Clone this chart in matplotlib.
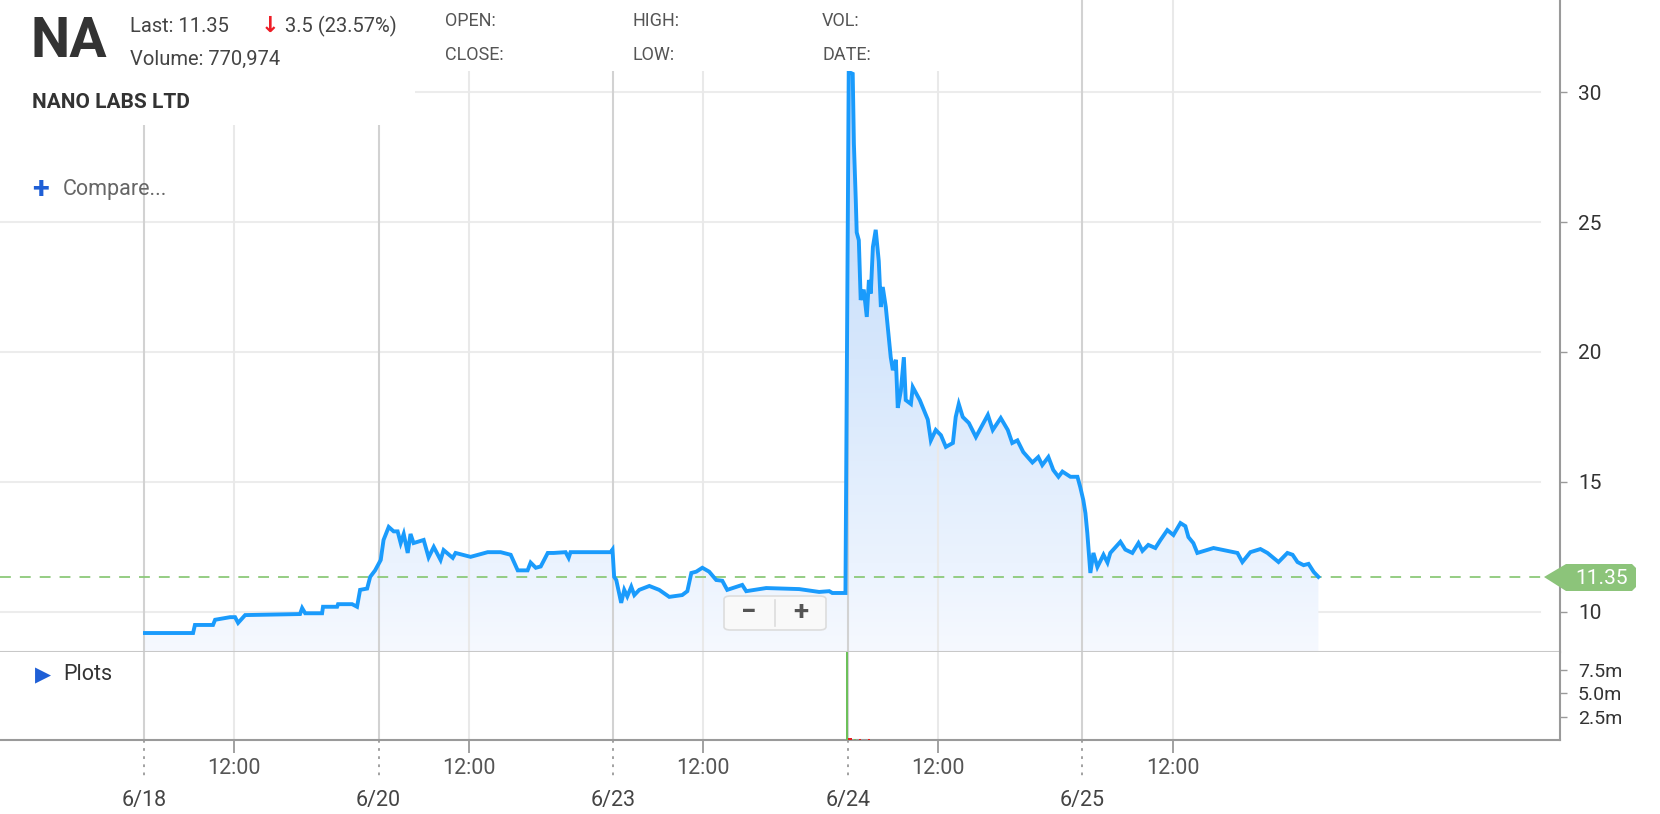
import numpy as np
import matplotlib
matplotlib.use("Agg")
import matplotlib.pyplot as plt
from matplotlib.colors import LinearSegmentedColormap
from matplotlib.patches import Rectangle, Polygon, FancyBboxPatch
import matplotlib.transforms as mtransforms

plt.rcParams['font.family'] = ['Roboto', 'DejaVu Sans']

# trading-day position (one unit per session, 0 = 6/18 open) and price
pos = [0.004, 0.209, 0.217, 0.294, 0.303, 0.367, 0.388, 0.401, 0.431, 0.665,
       0.674, 0.687, 0.759, 0.763, 0.823, 0.827, 0.887, 0.908, 0.921, 0.951,
       0.964, 0.985,
       1.009, 1.021, 1.043, 1.064, 1.081, 1.094, 1.107, 1.124, 1.136, 1.149,
       1.192, 1.213, 1.235, 1.264, 1.277, 1.316, 1.328, 1.392, 1.465, 1.520,
       1.563, 1.593, 1.635, 1.648, 1.670, 1.691, 1.721, 1.746, 1.797, 1.810,
       1.818, 1.989, 1.997,
       2.004, 2.013, 2.034, 2.047, 2.060, 2.077, 2.090, 2.111, 2.154, 2.196,
       2.239, 2.294, 2.316, 2.333, 2.354, 2.380, 2.409, 2.439, 2.465, 2.486,
       2.550, 2.567, 2.652, 2.793, 2.878, 2.921, 2.934, 2.990,
       3.004, 3.021, 3.026, 3.034, 3.038, 3.047, 3.055, 3.068, 3.081, 3.090,
       3.098, 3.107, 3.119, 3.132, 3.141, 3.149, 3.162, 3.183, 3.192, 3.205,
       3.213, 3.226, 3.239, 3.247, 3.269, 3.277, 3.307, 3.341, 3.354, 3.375,
       3.397, 3.418, 3.448, 3.460, 3.473, 3.490, 3.516, 3.546, 3.580, 3.597,
       3.618, 3.652, 3.682, 3.701, 3.723, 3.748, 3.787, 3.812, 3.829, 3.855,
       3.876, 3.898, 3.915, 3.949, 3.979, 3.991,
       4.004, 4.013, 4.021, 4.034, 4.047, 4.064, 4.090, 4.107, 4.119, 4.162,
       4.183, 4.213, 4.239, 4.256, 4.281, 4.311, 4.333, 4.362, 4.388, 4.418,
       4.439, 4.452, 4.473, 4.490, 4.559, 4.618, 4.661, 4.682, 4.716, 4.759,
       4.789, 4.836, 4.874, 4.896, 4.917, 4.943, 4.964, 4.986, 5.006]
price = [9.19, 9.19, 9.5, 9.5, 9.7, 9.8, 9.8, 9.58, 9.88, 9.92,
         10.15, 9.95, 9.95, 10.2, 10.2, 10.3, 10.3, 10.2, 10.85, 10.9,
         11.35, 11.6,
         12.0, 12.77, 13.27, 13.1, 13.1, 12.65, 13.0, 12.27, 13.0, 12.65,
         12.77, 12.1, 12.5, 12.0, 12.38, 12.08, 12.27, 12.12, 12.3, 12.3,
         12.2, 11.6, 11.6, 11.9, 11.7, 11.75, 12.27, 12.27, 12.3, 12.08,
         12.3, 12.3, 12.4,
         11.35, 11.23, 10.35, 10.85, 10.6, 10.97, 10.65, 10.85, 11.0, 10.85,
         10.58, 10.65, 10.8, 11.5, 11.55, 11.7, 11.55, 11.23, 11.2, 10.85,
         11.04, 10.8, 10.92, 10.88, 10.77, 10.8, 10.73, 10.73,
         30.77, 30.7, 28.0, 25.85, 24.6, 24.3, 22.0, 22.4, 21.35, 22.77,
         22.25, 24.04, 24.7, 23.5, 21.73, 22.5, 21.73, 19.8, 19.3, 19.7,
         17.85, 18.5, 19.8, 18.15, 18.0, 18.65, 18.15, 17.4, 16.6, 17.0,
         16.8, 16.35, 16.5, 17.5, 18.0, 17.5, 17.27, 16.73, 17.3, 17.58,
         17.0, 17.46, 17.0, 16.5, 16.6, 16.15, 15.75, 15.96, 15.65, 15.96,
         15.46, 15.2, 15.4, 15.2, 15.2, 14.8,
         14.3, 13.8, 13.04, 11.5, 12.27, 11.73, 12.2, 11.9, 12.27, 12.7,
         12.4, 12.27, 12.65, 12.35, 12.58, 12.46, 12.77, 13.15, 12.96, 13.42,
         13.3, 12.88, 12.65, 12.27, 12.46, 12.35, 12.27, 11.92, 12.3, 12.42,
         12.27, 11.92, 12.27, 12.2, 11.92, 11.8, 11.85, 11.54, 11.35]

vol_pos = [2.995, 3.006, 3.014, 3.030, 3.052, 3.090]
vol = [9.9e6, 0.22e6, 0.18e6, 0.10e6, 0.14e6, 0.09e6]
vol_up = [True, False, False, True, False, False]

day_pos = [0, 1, 2, 3, 4]
day_labels = ['6/18', '6/20', '6/23', '6/24', '6/25']
noon_pos = [d + 5 / 13 for d in day_pos]
price_ticks = [10, 15, 20, 25, 30]
vol_ticks = [2.5e6, 5.0e6, 7.5e6]
vol_tick_labels = ['2.5m', '5.0m', '7.5m']
last = 11.35

W, H = 1660, 814
fig = plt.figure(figsize=(W / 100, H / 100), dpi=100)
ax = fig.add_axes([0, (H - 652) / H, 1560 / W, 652 / H])
axv = fig.add_axes([0, (H - 740) / H, 1560 / W, 88 / H], sharex=ax)

ax.set_xlim(-0.614, 6.036)
ax.set_ylim(8.46, 33.54)
axv.set_ylim(0, 9.44e6)

for a in (ax, axv):
    for s in ('left', 'top'):
        a.spines[s].set_visible(False)
    a.spines['right'].set_color('#9a9a9a')
    a.spines['right'].set_linewidth(1.5)
    for d in day_pos:
        a.axvline(d, color='#d2d2d2', lw=1.5, zorder=1.5)
    for n in noon_pos:
        a.axvline(n, color='#e9e9e9', lw=1.5, zorder=1.5)

ax.spines['bottom'].set_color('#c8c8c8')
ax.spines['bottom'].set_linewidth(1.5)
axv.spines['bottom'].set_color('#9a9a9a')
axv.spines['bottom'].set_linewidth(1.5)

# price panel
for v in price_ticks:
    ax.axhline(v, xmax=1540 / 1560, color='#ececec', lw=1.5, zorder=1)
ax.yaxis.tick_right()
ax.set_yticks(price_ticks)
ax.tick_params(axis='y', length=5, width=1, color='#9a9a9a', pad=8,
               labelsize=15, labelcolor='#333333')
ax.tick_params(axis='x', bottom=False, labelbottom=False)

poly = ax.fill_between(pos, price, 8.46, color='none', lw=0)
cmap = LinearSegmentedColormap.from_list(
    'g', [(0, '#f6f9ff'), (0.15, '#ebf3fe'), (0.5, '#d6e7fc'), (1, '#c0d8f9')])
grad = np.linspace(0, 1, 256).reshape(-1, 1)
img = ax.imshow(grad, cmap=cmap, aspect='auto', origin='lower',
                extent=[0, 5.1, 8.46, 31], zorder=1.2)
img.set_clip_path(poly.get_paths()[0], transform=ax.transData)
ax.plot(pos, price, color='#1a9bfc', lw=2.8, zorder=3, solid_joinstyle='miter')

ax.axhline(last, xmax=1544 / 1560, color='#8cc97a', lw=1.3, ls=(0, (6, 5)), zorder=2.5)

# volume panel
axv.yaxis.tick_right()
axv.set_yticks(vol_ticks, labels=vol_tick_labels)
axv.tick_params(axis='y', length=5, width=1, color='#9a9a9a', pad=8,
                labelsize=14, labelcolor='#333333')
colors = ['#6cc05a' if u else '#e02020' for u in vol_up]
axv.bar(vol_pos, vol, width=0.009, color=colors, zorder=3)

axv.set_xticks(day_pos, labels=day_labels)
axv.set_xticks(noon_pos, labels=['12:00'] * len(noon_pos), minor=True)
axv.tick_params(axis='x', which='major', length=0, pad=36, labelsize=15.5,
                labelcolor='#444444')
axv.tick_params(axis='x', which='minor', length=9, width=1.3, color='#9a9a9a',
                pad=4, labelsize=15.5, labelcolor='#555555')
trans = mtransforms.blended_transform_factory(axv.transData, axv.transAxes)
for d in day_pos:
    axv.plot([d, d], [0, -0.45], color='#9a9a9a', lw=1.3, ls=(0, (1.5, 3)),
             transform=trans, clip_on=False)

# header overlays (figure pixels)
def px(x, y):
    return x / W, 1 - y / H

fig.patches.append(Rectangle(px(0, 125), 415 / W, 125 / H, transform=fig.transFigure,
                             facecolor='white', edgecolor='none', zorder=5))
fig.patches.append(Rectangle(px(415, 71), 585 / W, 71 / H, transform=fig.transFigure,
                             facecolor='white', edgecolor='none', zorder=5))
narrow = ['Liberation Sans Narrow', 'Roboto', 'DejaVu Sans']
fig.text(*px(30, 42), 'NA', fontsize=40, fontweight='bold', family=narrow,
         color='#333333', va='center', zorder=6)
fig.text(*px(130, 26), 'Last: 11.35', fontsize=14.5, family=narrow, color='#444444',
         va='center', zorder=6)
fig.text(*px(270, 26), '\u2193', fontsize=16, fontweight='bold', color='#ee1c25',
         va='center', ha='center', family=['DejaVu Sans'], zorder=6)
fig.text(*px(285, 26), '3.5 (23.57%)', fontsize=14.5, family=narrow, color='#444444',
         va='center', zorder=6)
fig.text(*px(130, 59), 'Volume: 770,974', fontsize=14.5, family=narrow, color='#444444',
         va='center', zorder=6)
fig.text(*px(32, 103), 'NANO LABS LTD', fontsize=15, fontweight='bold', family=narrow,
         color='#333333', va='center', zorder=6)
for lab, x, y in [('OPEN:', 445, 21), ('CLOSE:', 445, 55), ('HIGH:', 632, 21),
                  ('LOW:', 632, 55), ('VOL:', 822, 21), ('DATE:', 822, 55)]:
    fig.text(*px(x, y), lab, fontsize=13, family=narrow, color='#555555',
             va='center', zorder=6)

fig.text(*px(40, 189), '+', fontsize=22, fontweight='bold', color='#1f5fd6',
         va='center', ha='center', zorder=6)
fig.text(*px(63, 189), 'Compare...', fontsize=15.5, color='#666666', va='center', zorder=6)
fig.text(*px(43, 675), '\u25B6', fontsize=15, color='#1f5fd6', va='center',
         ha='center', family=['DejaVu Sans'], zorder=6)
fig.text(*px(63, 675), 'Plots', fontsize=15.5, color='#333333', va='center', zorder=6)

# zoom buttons
fig.patches.append(FancyBboxPatch(px(724, 630), 102 / W, 34 / H,
                                  boxstyle='round,pad=0,rounding_size=0.004',
                                  transform=fig.transFigure, facecolor='#f9f9f9',
                                  edgecolor='#dddddd', lw=1.2, zorder=5))
fig.lines.append(plt.Line2D([775 / W, 775 / W], [1 - 600 / H, 1 - 626 / H],
                            transform=fig.transFigure, color='#dddddd', lw=1.2, zorder=6))
fig.text(*px(749, 612), '\u2212', fontsize=20, fontweight='bold', color='#555555',
         ha='center', va='center', zorder=6)
fig.text(*px(801, 612), '+', fontsize=20, fontweight='bold', color='#555555',
         ha='center', va='center', zorder=6)

# last price tag
tag = Polygon([px(1544, 577), px(1566, 564), px(1632, 564), px(1636, 568),
               px(1636, 587), px(1632, 591), px(1566, 591)], closed=True,
              transform=fig.transFigure, facecolor='#8cc47a', edgecolor='none', zorder=5)
fig.patches.append(tag)
fig.text(*px(1602, 578), '11.35', fontsize=15, color='white', ha='center',
         va='center', zorder=6)

fig.savefig('out.png', dpi=100)
